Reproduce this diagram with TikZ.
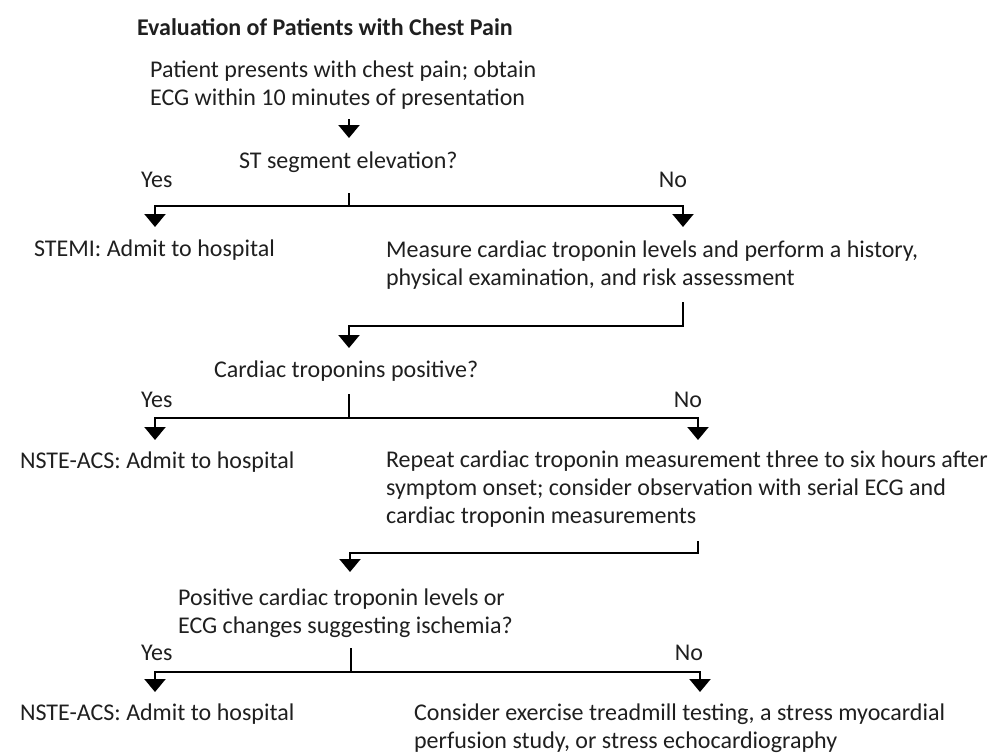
\documentclass[tikz,border=0pt]{standalone}
\usepackage{fontspec}
\setmainfont{Carlito}
\usetikzlibrary{arrows.meta}

\begin{document}
\begin{tikzpicture}[x=1pt, y=-1pt, line width=2.2pt,
  every node/.style={inner sep=0pt, anchor=base west, align=left,
    text=black!88, font=\fontsize{24}{28}\selectfont},
  flow/.style={-{Triangle[width=21pt,length=13pt]}}]
  \useasboundingbox (0,0) rectangle (1002,755);

  % multi-line nodes sit on the baseline of their last line
  \node (title) at (136,35) {\textbf{Evaluation of Patients with Chest Pain}};
  \node (start) at (149,105) {Patient presents with chest pain; obtain\\ECG within 10 minutes of presentation};

  % ST elevation
  \coordinate (s0) at (349,119);
  \coordinate (t0) at (349,138);
  \draw[flow] (s0) -- (t0);
  \node (q1) at (238,168) {ST segment elevation?};
  \node (yes1) at (140,187) {Yes};
  \node[anchor=base east] (no1) at (688,187) {No};
  \coordinate (q1stub) at (349,193);
  \coordinate (q1fork) at (349,206);
  \coordinate (q1yes) at (155,227);
  \coordinate (q1no) at (683,227);
  \draw (q1stub) -- (q1fork);
  \draw[flow] (q1fork) -| (q1yes);
  \draw[flow] (q1fork) -| (q1no);
  \node (stemi) at (33,256) {STEMI: Admit to hospital};
  \node (measure) at (385,285) {Measure cardiac troponin levels and perform a history,\\physical examination, and risk assessment};

  % troponins
  \coordinate (m1) at (683,302);
  \coordinate (m1b) at (683,326);
  \coordinate (t1) at (349,348);
  \draw[flow] (m1) -- (m1b) -| (t1);
  \node (q2) at (213,377) {Cardiac troponins positive?};
  \node (yes2) at (140,407) {Yes};
  \node[anchor=base east] (no2) at (703,407) {No};
  \coordinate (q2stub) at (349,394);
  \coordinate (q2fork) at (349,418);
  \coordinate (q2yes) at (155,440);
  \coordinate (q2no) at (698,440);
  \draw (q2stub) -- (q2fork);
  \draw[flow] (q2fork) -| (q2yes);
  \draw[flow] (q2fork) -| (q2no);
  \node (nste1) at (19,468) {NSTE-ACS: Admit to hospital};
  \node (repeat) at (385,523) {Repeat cardiac troponin measurement three to six hours after\\symptom onset; consider observation with serial ECG and\\cardiac troponin measurements};

  % ischemia
  \coordinate (m2) at (698,541);
  \coordinate (m2b) at (698,553);
  \coordinate (t2) at (350,572);
  \draw[flow] (m2) -- (m2b) -| (t2);
  \node (q3) at (177,633) {Positive cardiac troponin levels or\\ECG changes suggesting ischemia?};
  \node (yes3) at (140,660) {Yes};
  \node[anchor=base east] (no3) at (704,660) {No};
  \coordinate (q3stub) at (351,648);
  \coordinate (q3fork) at (351,672);
  \coordinate (q3yes) at (155,692);
  \coordinate (q3no) at (700,692);
  \draw (q3stub) -- (q3fork);
  \draw[flow] (q3fork) -| (q3yes);
  \draw[flow] (q3fork) -| (q3no);
  \node (nste2) at (19,720) {NSTE-ACS: Admit to hospital};
  \node (consider) at (413,748) {Consider exercise treadmill testing, a stress myocardial\\perfusion study, or stress echocardiography};
\end{tikzpicture}
\end{document}
